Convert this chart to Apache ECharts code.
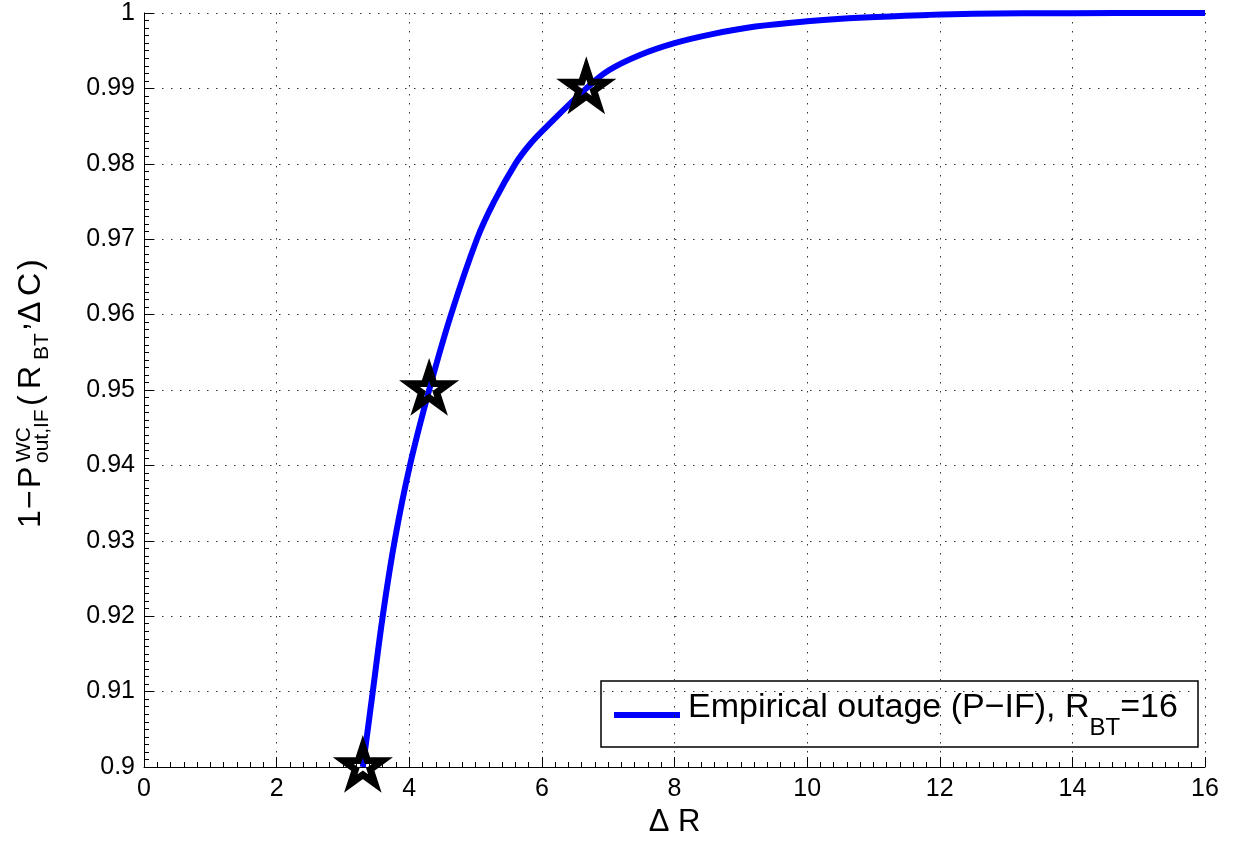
<!DOCTYPE html>
<html>
<head>
<meta charset="utf-8">
<script src="https://cdn.jsdelivr.net/npm/echarts@6/dist/echarts.min.js"></script>
<style>
html,body{margin:0;padding:0;background:#ffffff;}
#chart{width:1233px;height:843px;}
</style>
</head>
<body>
<div id="chart"></div>
<script>
// ---- data ----
const deltaR = [3.30, 3.45, 3.60, 3.78, 4.01, 4.30, 4.63, 5.02, 5.28, 5.60, 5.82, 6.08, 6.67,
                7.01, 7.47, 8.00, 8.57, 9.22, 10.00, 10.86, 11.83, 12.50, 14.00, 16.00];
const successProb = [0.900, 0.910, 0.920, 0.930, 0.940, 0.950, 0.960, 0.970, 0.975, 0.980, 0.9826, 0.985, 0.990,
                     0.9924, 0.9944, 0.9960, 0.9972, 0.9982, 0.9989, 0.9994, 0.99975, 0.9999, 0.99997, 1.000];
const markerR = [3.30, 4.30, 6.67];
const markerP = [0.90, 0.95, 0.99];
const xTickValues = [0, 2, 4, 6, 8, 10, 12, 14, 16];
const yTickValues = [0.90, 0.91, 0.92, 0.93, 0.94, 0.95, 0.96, 0.97, 0.98, 0.99, 1.00];
const seriesName = 'Empirical outage (P\u2212IF), R_BT=16';

// ---- style ----
const FONT = '"Liberation Sans", Arial, Helvetica, sans-serif';
const mctx = document.createElement('canvas').getContext('2d');
function tw(t, s) { mctx.font = s + 'px ' + FONT; return mctx.measureText(t).width; }
function txt(t, x, baseline, size, extra) {
  return Object.assign({
    type: 'text',
    x: x, y: baseline - 0.35 * size,
    style: { text: t, font: size + 'px ' + FONT, fill: '#000', align: 'left', verticalAlign: 'middle' }
  }, extra || {});
}

function starPath() {
  const pts = [];
  for (let k = 0; k < 10; k++) {
    const r = (k % 2) ? 38.2 : 100;
    const a = (-90 + 36 * k) * Math.PI / 180;
    pts.push((r * Math.cos(a)).toFixed(2) + ' ' + (r * Math.sin(a)).toFixed(2));
  }
  return 'path://M' + pts.join(' L') + ' Z';
}
const STAR_R = 20.5;

// ---- y-axis label (rotated, with super/subscripts) ----
const MS = 32, SS = 21;
const yl = [];
yl.push(txt('1', 0, 0, MS));
yl.push(txt('\u2212', 19, 0, MS));
yl.push(txt('P', 40, 0, MS));
yl.push(txt('WC', 66, -10, SS));
yl.push(txt('out,IF', 65, 8, SS));
yl.push(txt('(', 122, 0, MS));
yl.push(txt('R', 139, 0, MS));
yl.push(txt('BT', 168, 8, SS));
yl.push(txt(',', 197, -13, MS));
yl.push(txt('\u0394', 205, 0, MS));
yl.push(txt('C', 232, 0, MS));
yl.push(txt(')', 258, 0, MS));

// ---- legend (box, sample line, text) ----
const LEG = { x: 601, y: 681, w: 597, h: 66 };
const legBase = 720;
let lx = 688;
const legEls = [
  { type: 'rect', shape: { x: LEG.x, y: LEG.y, width: LEG.w, height: LEG.h },
    style: { fill: '#fff', stroke: '#000', lineWidth: 1.5 } },
  { type: 'line', shape: { x1: 614, y1: 715, x2: 680, y2: 715 },
    style: { stroke: '#0000ff', lineWidth: 6 } }
];
const part1 = 'Empirical outage (P\u2212IF), R';
legEls.push(txt(part1, lx, legBase, 34)); lx += tw(part1, 34);
legEls.push(txt('BT', lx, 737, 24)); lx += tw('BT', 24);
legEls.push(txt('=16', lx, legBase, 34));

const chart = echarts.init(document.getElementById('chart'), null, { renderer: 'canvas' });
chart.setOption({
  backgroundColor: '#ffffff',
  animation: false,
  textStyle: { fontFamily: FONT },
  grid: { left: 144, right: 28, top: 13, bottom: 76, containLabel: false },
  xAxis: {
    type: 'value', min: xTickValues[0], max: xTickValues[xTickValues.length - 1], interval: 2,
    name: '\u0394 R', nameLocation: 'middle', nameGap: 35,
    nameTextStyle: { fontSize: 31, color: '#000', fontFamily: FONT },
    axisLine: { show: true, onZero: false, lineStyle: { color: '#000', width: 1 } },
    axisTick: { show: true, inside: true, length: 10, lineStyle: { color: '#000', width: 1 } },
    minorTick: { show: true, splitNumber: 10, length: 5, lineStyle: { color: '#000', width: 1 } },
    axisLabel: { fontSize: 25, color: '#000', margin: 10, fontFamily: FONT },
    splitLine: { show: true, lineStyle: { color: '#333', width: 1, type: [1.5, 7.5] } }
  },
  yAxis: {
    type: 'value', min: yTickValues[0], max: yTickValues[yTickValues.length - 1], interval: 0.01,
    axisLine: { show: true, onZero: false, lineStyle: { color: '#000', width: 1 } },
    axisTick: { show: true, inside: true, length: 10, lineStyle: { color: '#000', width: 1 } },
    minorTick: { show: true, splitNumber: 10, length: 5, lineStyle: { color: '#000', width: 1 } },
    axisLabel: { fontSize: 25, color: '#000', margin: 9, fontFamily: FONT,
                 formatter: v => String(+v.toFixed(2)) },
    splitLine: { show: true, lineStyle: { color: '#333', width: 1, type: [1.5, 7.5] } }
  },
  series: [
    {
      name: seriesName, type: 'line',
      data: deltaR.map((x, i) => [x, successProb[i]]),
      showSymbol: false, symbol: 'none',
      smooth: 0.4,
      lineStyle: { color: '#0000ff', width: 6 },
      z: 3
    },
    {
      name: 'markers', type: 'scatter',
      data: markerR.map((x, i) => [x, markerP[i]]),
      symbol: starPath(),
      symbolSize: [1.902 * STAR_R, 1.809 * STAR_R],
      symbolOffset: [0, -0.0955 * STAR_R],
      clip: false,
      itemStyle: { color: 'rgba(0,0,0,0)', borderColor: '#000', borderWidth: 7,
                   borderJoin: 'miter', borderMiterLimit: 10, opacity: 1 },
      emphasis: { disabled: true },
      z: 4
    }
  ],
  graphic: [
    { type: 'group', x: 42, y: 528, rotation: Math.PI / 2, children: yl },
    { type: 'group', children: legEls, z: 10 }
  ]
});
</script>
</body>
</html>
